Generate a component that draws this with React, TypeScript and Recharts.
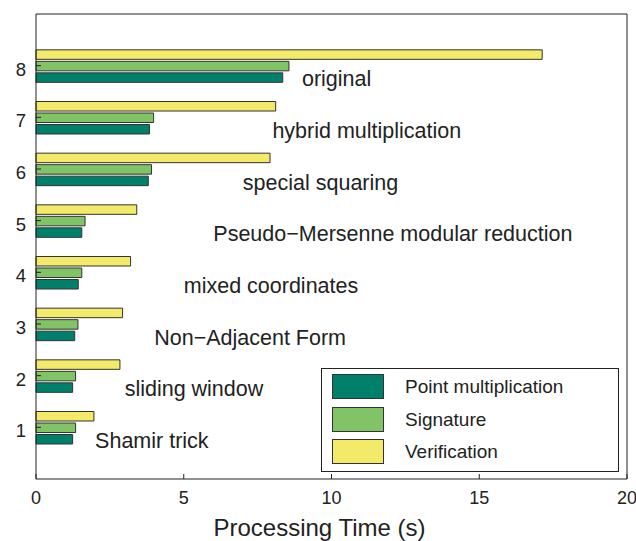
import React from 'react';
import { BarChart, Bar, XAxis, YAxis, ReferenceDot, Legend } from 'recharts';

// Optimisation level (cumulative) on the vertical axis
const levels = [1, 2, 3, 4, 5, 6, 7, 8];
const optimizations = [
  'Shamir trick',
  'sliding window',
  'Non\u2212Adjacent Form',
  'mixed coordinates',
  'Pseudo\u2212Mersenne modular reduction',
  'special squaring',
  'hybrid multiplication',
  'original',
];

// Processing times in seconds
const pointMultiplication = [1.24, 1.24, 1.31, 1.43, 1.55, 3.8, 3.84, 8.35];
const signature = [1.34, 1.34, 1.42, 1.55, 1.66, 3.91, 3.98, 8.56];
const verification = [1.96, 2.84, 2.93, 3.2, 3.41, 7.92, 8.11, 17.13];

const xTicks = [0, 5, 10, 15, 20];

const COLORS = {
  point: '#00806a',
  signature: '#80c466',
  verification: '#f2ea68',
};

const FONT = '"Liberation Sans", Arial, Helvetica, sans-serif';
const INK = '#222';

const rows = levels.map((level, i) => ({
  level,
  point: pointMultiplication[i],
  signature: signature[i],
  verification: verification[i],
}));

const XTick = (p: any) => (
  <text x={p.x} y={p.y} dy={17} textAnchor="middle" fontSize={18} fontFamily={FONT} fill={INK}>
    {p.payload.value}
  </text>
);

const YTick = (p: any) => (
  <text x={p.x} y={p.y} dy={10} textAnchor="end" fontSize={18.5} fontFamily={FONT} fill={INK}>
    {p.payload.value}
  </text>
);

const annotation = (text: string) => (p: any) => {
  const vb = p.viewBox || {};
  const x = (vb.x ?? 0) + (vb.width ?? 0) / 2;
  const y = (vb.y ?? 0) + (vb.height ?? 0) / 2;
  return (
    <text x={x} y={y} dy="0.36em" textAnchor="start" fontSize={21.5} fontFamily={FONT} fill={INK}>
      {text}
    </text>
  );
};

const LegendBox = (props: any) => {
  const items = [...(props.payload ?? [])];
  return (
    <div
      style={{
        width: 298,
        height: 104,
        boxSizing: 'border-box',
        border: `1px solid ${INK}`,
        background: '#fff',
        paddingTop: 1.25,
        fontFamily: FONT,
      }}
    >
      {items.map((it: any) => (
        <div key={it.value} style={{ display: 'flex', alignItems: 'center', height: 32.5, marginLeft: 10 }}>
          <span
            style={{
              display: 'inline-block',
              width: 52,
              height: 25,
              boxSizing: 'border-box',
              background: it.color,
              border: '1px solid #333',
            }}
          />
          <span style={{ marginLeft: 21, fontSize: 19, color: INK, lineHeight: 1 }}>{it.value}</span>
        </div>
      ))}
    </div>
  );
};

export default function App() {
  return (
    <div style={{ width: 636, height: 541, background: '#fff' }}>
      <style>{'body{margin:0;background:#fff}'}</style>
      <BarChart
        width={636}
        height={541}
        data={rows}
        layout="vertical"
        margin={{ top: 13, right: 8, bottom: 0, left: 0 }}
        barSize={9.5}
        barGap={2}
      >
        <XAxis
          type="number"
          domain={[0, 20]}
          ticks={xTicks}
          height={62}
          tickSize={-5}
          tickMargin={13}
          tick={XTick}
          axisLine={{ stroke: INK }}
          tickLine={{ stroke: INK }}
          label={{
            value: 'Processing Time (s)',
            position: 'insideBottom',
            offset: 5,
            dx: -12,
            style: { fontSize: 24, fontFamily: FONT, fill: INK },
          }}
        />
        <XAxis
          xAxisId="top"
          orientation="top"
          type="number"
          domain={[0, 20]}
          ticks={xTicks}
          height={1}
          tickSize={-5}
          tick={false}
          axisLine={{ stroke: INK }}
          tickLine={{ stroke: INK }}
        />
        <YAxis
          type="number"
          dataKey="level"
          domain={[0, 9]}
          ticks={levels}
          reversed
          width={36}
          tickSize={-5}
          tickMargin={15}
          tick={YTick}
          axisLine={{ stroke: INK }}
          tickLine={{ stroke: INK }}
        />
        <YAxis
          yAxisId="right"
          orientation="right"
          type="number"
          dataKey="level"
          domain={[0, 9]}
          ticks={levels}
          reversed
          width={1}
          tickSize={-5}
          tick={false}
          axisLine={{ stroke: INK }}
          tickLine={{ stroke: INK }}
        />
        <Bar dataKey="verification" name="Verification" fill={COLORS.verification} stroke="#333" strokeWidth={1} isAnimationActive={false} />
        <Bar dataKey="signature" name="Signature" fill={COLORS.signature} stroke="#333" strokeWidth={1} isAnimationActive={false} />
        <Bar dataKey="point" name="Point multiplication" fill={COLORS.point} stroke="#333" strokeWidth={1} isAnimationActive={false} />
        {levels.map((level, i) => (
          <ReferenceDot
            key={level}
            x={level + 1}
            y={level - 0.25}
            r={0}
            fill="none"
            stroke="none"
            label={annotation(optimizations[i])}
          />
        ))}
        <Legend
          layout="vertical"
          align="center"
          verticalAlign="middle"
          content={LegendBox}
          wrapperStyle={{ left: 321, top: 368, width: 298, height: 104 }}
        />
      </BarChart>
    </div>
  );
}
